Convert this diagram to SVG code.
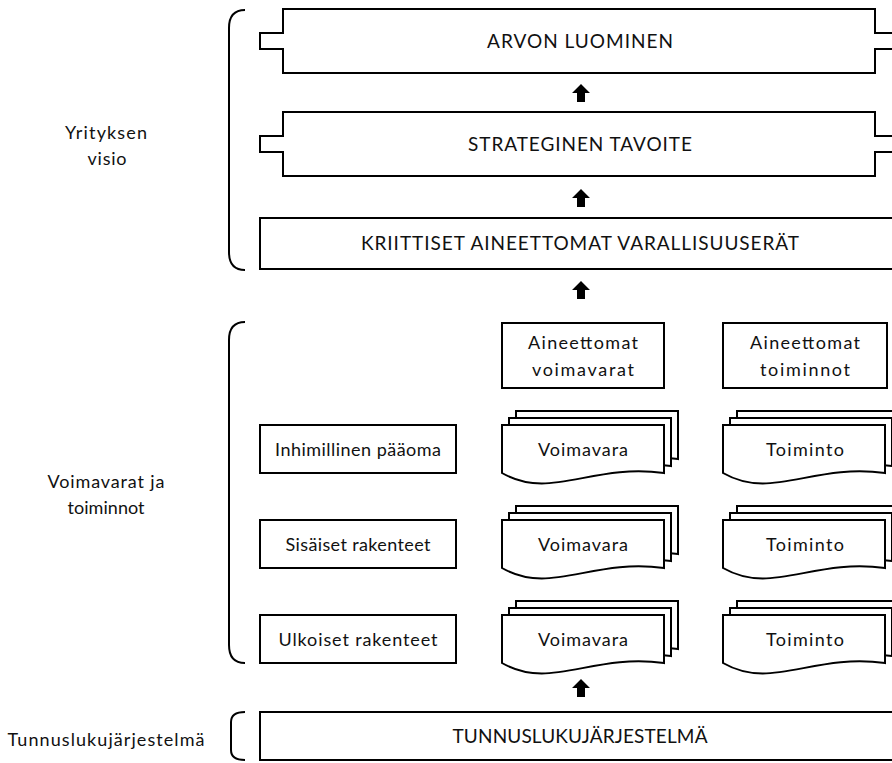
<svg xmlns="http://www.w3.org/2000/svg" xmlns:xlink="http://www.w3.org/1999/xlink" width="892" height="763" viewBox="0 0 892 763">
<style>
.box{fill:#fff;stroke:#000;stroke-width:2}
.brace{fill:none;stroke:#000;stroke-width:2}
.arr{fill:#000}
text{font-family:Lato,"Liberation Sans",sans-serif;fill:#111;text-anchor:middle;font-size:18px}
.cap{font-size:19px}
</style>
<defs>
<path id="doc" d="M0,0 H162 V48 C89,38 49,76 0,48 Z"/>
<polygon id="uparrow" points="0,0 9,9 4,9 4,18 -4,18 -4,9 -9,9"/>
</defs>
<rect width="892" height="763" fill="#fff"/>

<g id="braces">
<path class="brace" d="M245,10 Q229,10 229,28 V252 Q229,270 245,270"/>
<path class="brace" d="M245,322 Q229,322 229,340 V645 Q229,663 245,663"/>
<path class="brace" d="M245,712 Q231,712 231,722 V750 Q231,760 245,760"/>
</g>

<g id="labels">
<text x="106" y="139" textLength="82" lengthAdjust="spacing">Yrityksen</text>
<text x="107" y="165" textLength="39" lengthAdjust="spacing">visio</text>
<text x="106" y="488" textLength="117" lengthAdjust="spacing">Voimavarat ja</text>
<text x="106" y="514" textLength="77" lengthAdjust="spacing">toiminnot</text>
<text x="106" y="746" textLength="197" lengthAdjust="spacing">Tunnuslukujärjestelmä</text>
</g>

<g id="arvon">
<path class="box" d="M283,9 H875 V33 H900 V49 H875 V73 H283 V49 H260 V33 H283 Z"/>
<text class="cap" x="580" y="48" textLength="186" lengthAdjust="spacing">ARVON LUOMINEN</text>
</g>
<g id="strateginen">
<path class="box" d="M283,112 H875 V136 H900 V152 H875 V176 H283 V152 H260 V136 H283 Z"/>
<text class="cap" x="580" y="151" textLength="224" lengthAdjust="spacing">STRATEGINEN TAVOITE</text>
</g>
<g id="kriittiset">
<rect class="box" x="260" y="218" width="640" height="51"/>
<text class="cap" x="580" y="250" textLength="438" lengthAdjust="spacing">KRIITTISET AINEETTOMAT VARALLISUUSERÄT</text>
</g>

<g id="aineettomat-voimavarat">
<rect class="box" x="502" y="323" width="162" height="65"/>
<text x="583" y="349" textLength="110" lengthAdjust="spacing">Aineettomat</text>
<text x="583" y="376" textLength="102" lengthAdjust="spacing">voimavarat</text>
</g>
<g id="aineettomat-toiminnot">
<rect class="box" x="723" y="323" width="164" height="65"/>
<text x="805" y="349" textLength="110" lengthAdjust="spacing">Aineettomat</text>
<text x="805" y="376" textLength="90" lengthAdjust="spacing">toiminnot</text>
</g>

<g id="inhimillinen">
<rect class="box" x="260" y="425" width="196" height="48"/>
<text x="358" y="456" textLength="166" lengthAdjust="spacing">Inhimillinen pääoma</text>
</g>
<g id="sisaiset">
<rect class="box" x="260" y="520" width="196" height="48"/>
<text x="358" y="551" textLength="145" lengthAdjust="spacing">Sisäiset rakenteet</text>
</g>
<g id="ulkoiset">
<rect class="box" x="260" y="615" width="196" height="48"/>
<text x="358" y="646" textLength="159" lengthAdjust="spacing">Ulkoiset rakenteet</text>
</g>

<g id="voimavara-1">
<use href="#doc" class="box" x="516" y="411"/>
<use href="#doc" class="box" x="509" y="418"/>
<use href="#doc" class="box" x="502" y="425"/>
<text x="583" y="456" textLength="90" lengthAdjust="spacing">Voimavara</text>
</g>
<g id="voimavara-2">
<use href="#doc" class="box" x="516" y="506"/>
<use href="#doc" class="box" x="509" y="513"/>
<use href="#doc" class="box" x="502" y="520"/>
<text x="583" y="551" textLength="90" lengthAdjust="spacing">Voimavara</text>
</g>
<g id="voimavara-3">
<use href="#doc" class="box" x="516" y="601"/>
<use href="#doc" class="box" x="509" y="608"/>
<use href="#doc" class="box" x="502" y="615"/>
<text x="583" y="646" textLength="90" lengthAdjust="spacing">Voimavara</text>
</g>
<g id="toiminto-1">
<use href="#doc" class="box" x="737" y="411"/>
<use href="#doc" class="box" x="730" y="418"/>
<use href="#doc" class="box" x="723" y="425"/>
<text x="805" y="456" textLength="78" lengthAdjust="spacing">Toiminto</text>
</g>
<g id="toiminto-2">
<use href="#doc" class="box" x="737" y="506"/>
<use href="#doc" class="box" x="730" y="513"/>
<use href="#doc" class="box" x="723" y="520"/>
<text x="805" y="551" textLength="78" lengthAdjust="spacing">Toiminto</text>
</g>
<g id="toiminto-3">
<use href="#doc" class="box" x="737" y="601"/>
<use href="#doc" class="box" x="730" y="608"/>
<use href="#doc" class="box" x="723" y="615"/>
<text x="805" y="646" textLength="78" lengthAdjust="spacing">Toiminto</text>
</g>

<g id="tunnusluku">
<rect class="box" x="260" y="712" width="640" height="48"/>
<text class="cap" x="580" y="743" textLength="255" lengthAdjust="spacing">TUNNUSLUKUJÄRJESTELMÄ</text>
</g>

<g id="connectors">
<use href="#uparrow" class="arr" x="581" y="84"/>
<use href="#uparrow" class="arr" x="581" y="189"/>
<use href="#uparrow" class="arr" x="581" y="281"/>
<use href="#uparrow" class="arr" x="581" y="679"/>
</g>
</svg>
